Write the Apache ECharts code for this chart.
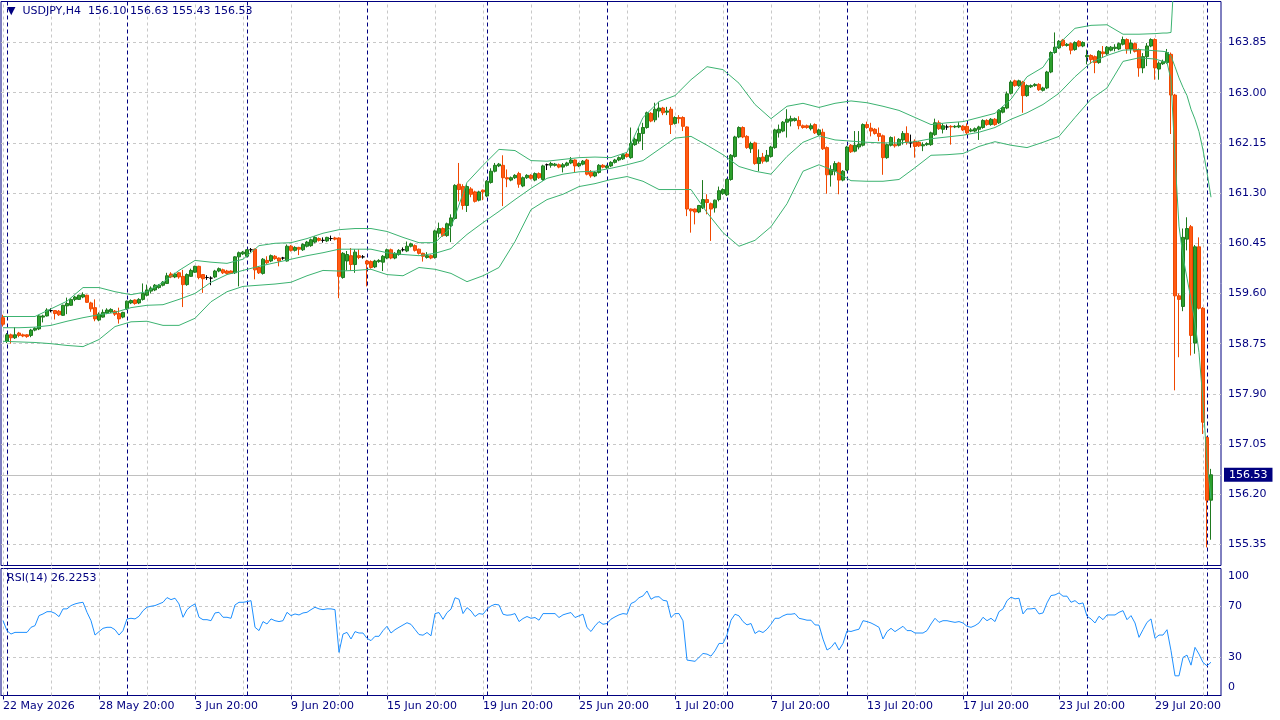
<!DOCTYPE html>
<html>
<head>
<meta charset="UTF-8">
<title>USDJPY,H4</title>
<script src="https://cdn.jsdelivr.net/npm/echarts@6/dist/echarts.min.js"></script>
<style>
  html, body { margin: 0; padding: 0; background: #fff; }
  #chart { width: 1280px; height: 720px; }
</style>
</head>
<body>
<div id="chart"></div>
<script>
// H4 bars (bar 0 = 22 May 20:00)
var opens = [
  159.19,158.79,158.90,158.85,158.93,158.90,158.90,158.89,158.98,159.00,
  159.20,159.22,159.31,159.31,159.30,159.23,159.39,159.40,159.50,159.50,
  159.54,159.57,159.44,159.36,159.15,159.20,159.27,159.29,159.30,159.26,
  159.20,159.34,159.44,159.49,159.44,159.50,159.57,159.64,159.66,159.70,
  159.74,159.77,159.93,159.88,159.95,159.89,159.75,159.89,159.96,160.06,
  159.92,159.87,159.86,159.88,159.98,160.00,159.98,159.98,159.95,160.22,
  160.27,160.23,160.34,160.35,160.04,159.94,160.16,160.15,160.23,160.20,
  160.20,160.15,160.40,160.33,160.38,160.34,160.40,160.41,160.47,160.53,
  160.50,160.49,160.53,160.54,160.54,159.87,160.15,160.24,160.09,160.24,
  160.22,160.15,160.14,160.05,160.14,160.13,160.20,160.34,160.20,160.26,
  160.34,160.32,160.40,160.41,160.35,160.28,160.21,160.24,160.21,160.62,
  160.70,160.58,160.75,160.87,161.45,161.41,161.09,161.37,161.32,161.18,
  161.35,161.25,161.48,161.67,161.76,161.77,161.56,161.52,161.56,161.63,
  161.42,161.56,161.60,161.52,161.63,161.53,161.78,161.77,161.77,161.78,
  161.74,161.77,161.81,161.86,161.76,161.79,161.86,161.65,161.59,161.65,
  161.77,161.73,161.76,161.82,161.86,161.88,161.96,161.90,162.12,162.18,
  162.31,162.41,162.65,162.54,162.69,162.74,162.67,162.72,162.48,162.58,
  162.58,162.42,161.03,161.03,160.98,161.05,161.19,161.12,161.05,161.19,
  161.29,161.27,161.53,161.92,162.25,162.41,162.26,162.05,162.15,161.80,
  161.91,161.84,161.92,162.07,162.32,162.35,162.50,162.52,162.53,162.53,
  162.44,162.44,162.39,162.46,162.29,162.33,162.07,161.61,161.67,161.81,
  161.52,161.69,162.11,162.01,162.08,162.11,162.46,162.40,162.38,162.31,
  162.27,161.90,162.11,162.12,162.11,162.20,162.31,162.15,162.18,162.16,
  162.10,162.12,162.12,162.29,162.49,162.38,162.42,162.43,162.42,162.42,
  162.43,162.43,162.35,162.35,162.38,162.41,162.53,162.46,162.55,162.49,
  162.67,162.74,162.99,163.20,163.12,163.18,162.95,163.10,163.12,163.14,
  163.04,163.08,163.35,163.68,163.76,163.89,163.80,163.83,163.73,163.87,
  163.79,163.61,163.63,163.61,163.51,163.69,163.66,163.72,163.75,163.74,
  163.82,163.90,163.74,163.83,163.73,163.42,163.61,163.79,163.90,163.40,
  163.49,163.51,163.65,162.96,159.56,159.38,160.52,160.73,158.76,160.39,
  159.35,157.16,156.10
];
var highs = [
  159.24,158.93,158.92,159.03,158.95,158.92,158.91,159.00,159.03,159.24,
  159.24,159.35,159.35,159.32,159.32,159.41,159.53,159.52,159.56,159.58,
  159.62,159.58,159.46,159.50,159.28,159.33,159.35,159.35,159.32,159.36,
  159.29,159.48,159.50,159.50,159.52,159.77,159.75,159.72,159.76,159.76,
  159.81,159.95,159.96,159.95,159.96,160.00,159.94,160.02,160.07,160.07,
  159.93,159.91,159.89,160.00,160.04,160.02,160.00,159.99,160.23,160.31,
  160.32,160.35,160.37,160.36,160.06,160.20,160.23,160.26,160.25,160.21,
  160.22,160.43,160.42,160.40,160.39,160.45,160.49,160.53,160.57,160.55,
  160.55,160.56,160.58,160.56,160.55,160.30,160.32,160.37,160.35,160.35,
  160.25,160.17,160.16,160.17,160.18,160.25,160.36,160.36,160.30,160.35,
  160.38,160.48,160.46,160.43,160.36,160.29,160.30,160.26,160.68,160.80,
  160.72,160.80,160.94,161.45,161.81,161.45,161.45,161.40,161.34,161.34,
  161.36,161.52,161.72,161.81,161.81,161.94,161.70,161.58,161.62,161.66,
  161.58,161.62,161.62,161.65,161.65,161.78,161.80,161.83,161.81,161.80,
  161.81,161.83,161.91,161.87,161.82,161.86,161.88,161.69,161.67,161.79,
  161.79,161.78,161.84,161.88,161.92,161.97,161.98,162.41,162.24,162.41,
  162.49,162.68,162.67,162.83,162.84,162.76,162.76,162.76,162.60,162.62,
  162.60,162.43,161.04,161.04,161.10,161.52,161.28,161.14,161.19,161.41,
  161.38,161.55,161.96,162.27,162.43,162.43,162.28,162.17,162.17,162.04,
  161.98,162.03,162.10,162.39,162.46,162.52,162.72,162.61,162.58,162.60,
  162.46,162.46,162.48,162.48,162.39,162.39,162.09,161.77,161.84,161.83,
  161.69,162.10,162.13,162.35,162.35,162.48,162.51,162.49,162.40,162.41,
  162.29,162.14,162.26,162.26,162.23,162.35,162.43,162.29,162.21,162.18,
  162.16,162.16,162.34,162.56,162.53,162.48,162.46,162.45,162.45,162.50,
  162.45,162.48,162.40,162.41,162.44,162.55,162.55,162.57,162.57,162.72,
  162.77,163.02,163.21,163.22,163.22,163.20,163.14,163.14,163.16,163.16,
  163.10,163.37,163.70,164.02,163.89,163.91,163.84,163.85,163.87,163.89,
  163.87,163.73,163.65,163.63,163.72,163.79,163.79,163.79,163.82,163.85,
  163.95,163.92,163.90,163.85,163.75,163.67,163.84,163.92,163.92,163.53,
  163.56,163.74,163.68,162.98,159.60,160.70,160.89,160.76,160.42,160.55,
  159.37,157.18,156.63
];
var lows = [
  159.04,158.76,158.75,158.83,158.86,158.86,158.85,158.86,158.96,158.98,
  159.11,159.21,159.28,159.16,159.22,159.22,159.25,159.39,159.47,159.49,
  159.52,159.44,159.29,159.13,159.13,159.19,159.25,159.27,159.22,159.09,
  159.18,159.32,159.42,159.41,159.42,159.48,159.55,159.60,159.64,159.68,
  159.72,159.76,159.86,159.86,159.85,159.37,159.73,159.88,159.95,159.84,
  159.61,159.83,159.74,159.86,159.96,159.93,159.92,159.93,159.93,159.72,
  160.25,160.21,160.30,159.84,159.93,159.92,160.10,160.13,160.17,160.06,
  160.17,160.14,160.31,160.31,160.25,160.32,160.38,160.39,160.45,160.48,
  160.46,160.47,160.49,160.50,159.52,159.85,159.99,159.98,159.95,160.18,
  160.19,159.72,160.02,160.03,160.12,159.98,160.18,160.18,160.18,160.24,
  160.31,160.30,160.38,160.31,160.26,160.14,160.19,160.18,160.19,160.55,
  160.56,160.56,160.47,160.85,161.16,161.02,160.98,161.23,161.14,161.16,
  161.18,161.23,161.46,161.65,161.74,161.08,161.40,161.50,161.54,161.39,
  161.40,161.54,161.53,161.50,161.54,161.51,161.69,161.73,161.75,161.72,
  161.65,161.75,161.79,161.65,161.74,161.77,161.60,161.56,161.57,161.63,
  161.72,161.71,161.74,161.80,161.84,161.86,161.90,161.88,162.10,162.14,
  162.03,162.39,162.50,162.50,162.58,162.62,162.62,162.30,162.46,162.48,
  162.35,160.91,160.63,160.77,160.96,161.03,160.94,160.49,160.97,161.16,
  161.27,161.25,161.51,161.90,162.23,162.23,162.05,161.98,161.78,161.67,
  161.80,161.82,161.90,162.05,162.24,162.33,162.24,162.43,162.51,162.38,
  162.39,162.39,162.36,162.30,162.27,162.03,161.29,161.41,161.60,161.28,
  161.50,161.67,161.98,161.99,162.04,162.09,162.39,162.26,162.29,162.18,
  161.61,161.88,162.09,162.07,162.09,162.12,162.12,162.07,161.90,162.08,
  162.01,162.10,162.10,162.27,162.37,162.31,162.37,162.12,162.40,162.40,
  162.35,162.30,162.33,162.33,162.20,162.39,162.44,162.44,162.44,162.47,
  162.65,162.72,162.97,163.10,163.10,162.66,162.93,163.08,163.10,163.03,
  163.02,163.06,163.33,163.66,163.74,163.78,163.78,163.65,163.71,163.77,
  163.77,163.48,163.49,163.33,163.49,163.59,163.64,163.70,163.70,163.72,
  163.80,163.66,163.66,163.68,163.27,163.33,163.45,163.77,163.22,163.22,
  163.47,163.49,162.30,157.96,158.52,159.30,160.33,158.55,158.58,159.33,
  157.22,155.30,155.43
];
var closes = [
  159.08,158.90,158.85,158.90,158.89,158.88,158.87,158.98,159.01,159.22,
  159.22,159.32,159.31,159.26,159.24,159.40,159.43,159.50,159.54,159.57,
  159.58,159.45,159.34,159.17,159.25,159.28,159.32,159.33,159.25,159.17,
  159.28,159.47,159.48,159.43,159.50,159.60,159.66,159.69,159.74,159.74,
  159.79,159.90,159.88,159.93,159.88,159.75,159.92,159.99,160.06,159.87,
  159.85,159.87,159.86,159.98,160.02,159.95,159.94,159.94,160.22,160.29,
  160.30,160.34,160.34,160.00,159.95,160.18,160.12,160.24,160.19,160.15,
  160.20,160.40,160.33,160.38,160.35,160.43,160.47,160.51,160.55,160.50,
  160.50,160.55,160.53,160.52,159.89,160.28,160.26,160.09,160.30,160.21,
  160.22,160.10,160.04,160.15,160.16,160.23,160.34,160.20,160.28,160.33,
  160.34,160.40,160.44,160.33,160.28,160.23,160.24,160.20,160.66,160.70,
  160.58,160.78,160.88,161.43,161.36,161.09,161.41,161.28,161.16,161.32,
  161.32,161.50,161.67,161.77,161.79,161.56,161.54,161.56,161.60,161.45,
  161.56,161.60,161.55,161.63,161.56,161.76,161.78,161.80,161.79,161.74,
  161.78,161.81,161.86,161.76,161.80,161.84,161.62,161.59,161.65,161.77,
  161.74,161.76,161.82,161.86,161.90,161.95,161.92,162.14,162.21,162.31,
  162.41,162.66,162.52,162.72,162.74,162.66,162.69,162.46,162.58,162.56,
  162.43,161.03,161.00,160.98,161.09,161.19,161.14,161.03,161.18,161.34,
  161.36,161.53,161.94,162.25,162.41,162.25,162.07,162.14,161.80,161.90,
  161.84,161.94,162.08,162.37,162.38,162.50,162.55,162.56,162.56,162.44,
  162.41,162.41,162.44,162.32,162.37,162.05,161.61,161.70,161.80,161.52,
  161.67,162.08,162.00,162.11,162.13,162.46,162.41,162.35,162.31,162.26,
  161.90,162.12,162.24,162.10,162.21,162.31,162.16,162.15,162.09,162.10,
  162.12,162.14,162.32,162.49,162.39,162.44,162.42,162.42,162.43,162.44,
  162.37,162.32,162.37,162.39,162.42,162.53,162.46,162.55,162.46,162.70,
  162.75,162.98,163.18,163.12,163.20,162.95,163.12,163.12,163.14,163.05,
  163.08,163.35,163.68,163.77,163.87,163.80,163.82,163.72,163.85,163.79,
  163.85,163.63,163.56,163.51,163.70,163.66,163.77,163.77,163.77,163.83,
  163.90,163.74,163.84,163.70,163.42,163.61,163.79,163.90,163.42,163.50,
  163.53,163.68,162.96,159.56,159.50,160.55,160.70,158.89,160.39,159.35,
  157.42,156.10,156.53
];

// Bollinger band lines, read at these bars
var bbBars = [
  0,4,8,12,16,20,24,28,32,36,40,44,48,52,56,60,64,68,72,76,
  80,84,88,92,96,100,104,108,112,116,120,124,128,132,136,140,144,148,152,156,
  160,164,168,172,176,180,184,188,192,196,200,204,208,212,216,220,224,228,232,236,
  240,244,248,252,256,260,264,268,272,276,280,284,288,290,291,292,293,294,295,296,
  297,298,299,300,301,302
];
var bbUpper = [
  159.21,159.21,159.21,159.34,159.47,159.70,159.70,159.63,159.58,159.63,
  159.79,159.99,160.16,160.13,160.11,160.18,160.41,160.45,160.46,160.53,
  160.62,160.68,160.70,160.70,160.65,160.55,160.46,160.46,160.72,161.48,
  161.77,162.04,162.02,161.85,161.84,161.87,161.90,161.91,161.90,161.99,
  162.58,162.85,162.95,163.22,163.44,163.39,163.16,162.80,162.56,162.77,
  162.82,162.75,162.82,162.86,162.83,162.77,162.70,162.58,162.46,162.49,
  162.51,162.58,162.65,162.89,163.27,163.43,163.83,164.09,164.14,164.15,
  163.99,163.99,164.00,164.01,164.01,164.02,165.25,165.75,165.84,165.89,
  166.14,166.07,166.08,166.29,166.55,166.32
];
var bbMiddle = [
  159.02,159.02,159.03,159.06,159.13,159.19,159.24,159.28,159.36,159.40,
  159.41,159.50,159.60,159.79,159.92,159.99,160.06,160.12,160.18,160.24,
  160.29,160.35,160.35,160.35,160.29,160.26,160.24,160.28,160.36,160.60,
  160.80,160.99,161.19,161.38,161.55,161.62,161.66,161.67,161.72,161.78,
  161.85,162.04,162.23,162.26,162.11,161.95,161.75,161.67,161.62,161.92,
  162.16,162.27,162.20,162.18,162.16,162.15,162.15,162.17,162.22,162.25,
  162.28,162.33,162.41,162.55,162.66,162.80,162.99,163.27,163.51,163.63,
  163.72,163.73,163.71,163.70,163.69,163.62,163.44,163.25,163.09,162.95,
  162.72,162.55,162.34,162.03,161.65,161.23
];
var bbLower = [
  158.79,158.78,158.77,158.75,158.72,158.70,158.82,159.04,159.12,159.13,
  159.06,159.06,159.18,159.46,159.63,159.72,159.74,159.76,159.79,159.90,
  159.99,159.98,159.99,160.01,159.92,159.90,160.04,160.01,159.94,159.80,
  159.90,160.04,160.48,161.02,161.19,161.28,161.41,161.46,161.53,161.58,
  161.50,161.36,161.36,161.36,160.97,160.63,160.40,160.50,160.73,161.12,
  161.67,161.78,161.67,161.51,161.50,161.50,161.53,161.73,161.94,161.95,
  161.97,162.09,162.17,162.11,162.07,162.16,162.26,162.58,162.89,163.08,
  163.53,163.59,163.57,163.53,163.51,163.22,161.90,160.74,160.22,159.86,
  159.50,159.10,158.60,157.77,156.75,156.13
];

// RSI(14), one value per bar
var rsiValues = [
  59,51,48.4,49.7,49.7,49.7,49.7,53.7,55,62.9,
  64.2,66,66,64.7,62.1,68.2,68.2,70.8,72.1,72.9,
  73.4,65.5,58.9,47.6,50.3,52.9,53.7,53.7,51.8,47.6,
  51.1,60.3,60.8,60.3,62.4,66.8,69.5,70.3,70.8,72.1,
  73.4,77.1,75.5,76.6,72.1,61.6,67.6,70.3,72.1,61.6,
  59.7,59.7,58.9,65,65.5,61.6,61.6,60.8,71.3,73.4,
  73.4,73.9,74.7,53.7,51.1,58.2,56.3,60.3,58.9,58.2,
  58.9,65.5,62.9,64.2,63.4,65,65.5,67.6,69.5,68.2,
  67.6,68.2,68.2,67.6,34,48.4,49.7,44.5,50.3,49.2,
  49.2,45,43.2,46.6,46.6,51.1,54.5,49.2,51.8,53.7,
  55.5,57.3,56,52,48,47.5,49.6,47,64.5,65.3,
  60,65.3,68,77,75.8,64.5,69.2,66.6,62.2,64.5,
  64,68,70.5,71.8,71.3,64,63.2,63.5,64.5,58.2,
  60.6,62.2,60.8,61.4,59.3,64.5,64.5,64.5,64.5,61.4,
  63.5,64.5,65.3,61.4,62.7,64,53.5,50.4,54.8,58.2,
  56.1,56.7,60.1,61.9,63.5,64.5,64,72.4,73.9,77,
  78.4,82.3,75.8,77.6,77.8,75,74.4,61.4,64.5,64.5,
  58.8,27.9,27.4,26.9,30,33.1,32.6,31,35.2,41,
  41,47.8,59.3,64,62.7,58.2,55.6,56.7,48.8,50.9,
  49.6,52.2,56.1,60.8,60.8,62.7,64,64,64.5,60.8,
  60.1,59.3,59.3,55.6,55.4,44.4,35.8,37.8,41.8,35.8,
  41,50.9,50.4,51.4,52.2,58.9,58.2,57.1,55.5,53.7,
  44.5,50.3,52.9,50.3,52.4,54.5,51.1,51.1,49.2,49.2,
  49.2,51.1,56.3,60.8,57.6,58.9,58.9,58.2,57.6,58.2,
  57.1,54.5,53.7,55,57.1,61.6,58.9,60.8,58.2,66,
  68.2,74.7,77.4,76.1,76.6,64.2,68.2,68.2,68.7,64.2,
  65,72.9,78.7,79.2,80.8,78.2,78.2,73.4,74.7,72.1,
  72.9,62.4,60.3,57.1,62.4,59.7,63.4,63.4,63.4,65.5,
  66.8,59.7,62.9,57.1,45.8,51.8,57.6,60.3,45,47.6,
  47.6,51.8,35.3,15.5,15.5,30,31.8,23.9,37.9,32.6,
  26,23.4,26.2
];

var priceTicks = [155.35, 156.20, 157.05, 157.90, 158.75, 159.60, 160.45, 161.30, 162.15, 163.00, 163.85];
var rsiTicks = [0, 30, 70, 100];
var timeLabels = ['22 May 2026', '28 May 20:00', '3 Jun 20:00', '9 Jun 20:00', '15 Jun 20:00',
  '19 Jun 20:00', '25 Jun 20:00', '1 Jul 20:00', '7 Jul 20:00', '13 Jul 20:00',
  '17 Jul 20:00', '23 Jul 20:00', '29 Jul 20:00'];
var weekStarts = [1, 31, 61, 91, 121, 151, 181, 211, 241, 271, 301];
var lastPrice = 156.53;

var navy = '#000080';
var font = 'DejaVu Sans';
var gridGray = '#c8c8c8';
var slotCount = 305;   // 303 bars plus the right-hand shift

var cats = [];
for (var i = 0; i < slotCount; i++) cats.push(i);

var candles = opens.map(function (o, i) { return [o, closes[i], lows[i], highs[i]]; });

function band(vals) {
  return bbBars.map(function (b, k) { return [b, vals[k]]; });
}

function labelBar(i) { return i % 24 === 0 && i <= 288; }

function verticalLines() {
  var out = [];
  for (var b = 0; b < slotCount; b += 12) {
    out.push({ xAxis: b, lineStyle: { color: gridGray, type: [3, 3] } });
  }
  weekStarts.forEach(function (b) {
    out.push({ xAxis: b, lineStyle: { color: navy, type: [4, 3] } });
  });
  return out;
}

var priceMarks = priceTicks.map(function (v) {
  return { yAxis: v, lineStyle: { color: gridGray, type: [3, 3] } };
}).concat(verticalLines());
priceMarks.push({
  yAxis: lastPrice,
  lineStyle: { color: '#c0c0c0', type: 'solid' },
  label: {
    show: true, position: 'end', distance: 3, formatter: lastPrice.toFixed(2),
    color: '#fff', backgroundColor: navy, padding: [2, 5, 1, 5],
    fontFamily: font, fontSize: 11
  }
});

var rsiMarks = [30, 70].map(function (v) {
  return { yAxis: v, lineStyle: { color: gridGray, type: [3, 3] } };
}).concat(verticalLines());

var bandStyle = { color: '#3cb371', width: 1 };

var chart = echarts.init(document.getElementById('chart'), null, { renderer: 'canvas' });

chart.setOption({
  animation: false,
  backgroundColor: '#fff',
  title: [
    {
      text: '\u25BC  USDJPY,H4  156.10 156.63 155.43 156.53',
      left: 7, top: 6, padding: 0,
      textStyle: { color: navy, fontSize: 11, fontWeight: 'normal', fontFamily: font }
    },
    {
      text: 'RSI(14) 26.2253',
      left: 7, top: 573, padding: 0,
      textStyle: { color: navy, fontSize: 11, fontWeight: 'normal', fontFamily: font }
    }
  ],
  grid: [
    { left: 1, right: 59, top: 1.5, height: 564, show: true, borderColor: navy, borderWidth: 1 },
    { left: 1, right: 59, top: 568.5, height: 127, show: true, borderColor: navy, borderWidth: 1 }
  ],
  xAxis: [
    {
      type: 'category', gridIndex: 0, data: cats, boundaryGap: true,
      axisLine: { show: false }, axisTick: { show: false },
      axisLabel: { show: false }, splitLine: { show: false }
    },
    {
      type: 'category', gridIndex: 1, data: cats, boundaryGap: true,
      axisLine: { show: true, lineStyle: { color: navy } },
      axisTick: { show: true, alignWithLabel: true, interval: labelBar, length: 4, lineStyle: { color: navy } },
      axisLabel: {
        interval: labelBar,
        formatter: function (v, idx) { return timeLabels[idx / 24]; },
        align: 'left', margin: 5, color: navy, fontFamily: font, fontSize: 11
      },
      splitLine: { show: false }
    }
  ],
  yAxis: [
    {
      type: 'value', gridIndex: 0, position: 'right',
      min: 154.994, max: 164.544,
      axisLine: { show: false }, axisTick: { show: false }, splitLine: { show: false },
      axisLabel: {
        customValues: priceTicks,
        formatter: function (v) { return v.toFixed(2); },
        margin: 7, color: navy, fontFamily: font, fontSize: 11
      }
    },
    {
      type: 'value', gridIndex: 1, position: 'right', min: 0, max: 100,
      axisLine: { show: false }, axisTick: { show: false }, splitLine: { show: false },
      axisLabel: {
        customValues: rsiTicks,
        formatter: function (v) {
          if (v === 100) return '{t|100}';
          if (v === 0) return '{b|0}';
          return String(v);
        },
        rich: {
          t: { padding: [16, 0, 0, 0], color: navy, fontFamily: font, fontSize: 11 },
          b: { padding: [0, 0, 16, 0], color: navy, fontFamily: font, fontSize: 11 }
        },
        margin: 7, color: navy, fontFamily: font, fontSize: 11
      }
    }
  ],
  series: [
    {
      name: 'USDJPY', type: 'candlestick', xAxisIndex: 0, yAxisIndex: 0,
      data: candles, barWidth: 3,
      itemStyle: {
        color: '#2ca02c', borderColor: '#1f7a1f',
        color0: '#ff5a14', borderColor0: '#f04800',
        borderColorDoji: '#000000', borderWidth: 1
      },
      markLine: {
        silent: true, z: 1, animation: false, symbol: ['none', 'none'],
        label: { show: false }, lineStyle: { width: 1 }, data: priceMarks
      }
    },
    { name: 'BB upper', type: 'line', xAxisIndex: 0, yAxisIndex: 0, data: band(bbUpper),
      symbol: 'none', lineStyle: bandStyle, silent: true },
    { name: 'BB middle', type: 'line', xAxisIndex: 0, yAxisIndex: 0, data: band(bbMiddle),
      symbol: 'none', lineStyle: bandStyle, silent: true },
    { name: 'BB lower', type: 'line', xAxisIndex: 0, yAxisIndex: 0, data: band(bbLower),
      symbol: 'none', lineStyle: bandStyle, silent: true },
    {
      name: 'RSI(14)', type: 'line', xAxisIndex: 1, yAxisIndex: 1, data: rsiValues,
      symbol: 'none', lineStyle: { color: '#1e90ff', width: 1 }, silent: true,
      markLine: {
        silent: true, z: 1, animation: false, symbol: ['none', 'none'],
        label: { show: false }, lineStyle: { width: 1 }, data: rsiMarks
      }
    }
  ]
});
</script>
</body>
</html>
